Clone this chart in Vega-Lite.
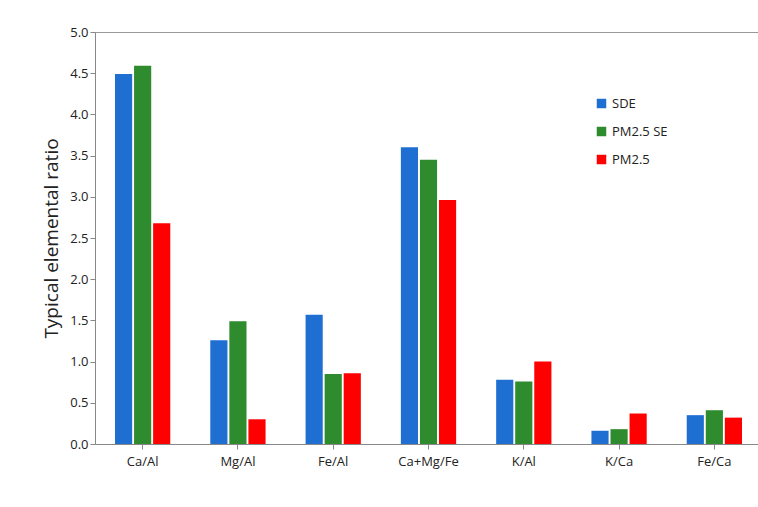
{
"$schema":"https://vega.github.io/schema/vega-lite/v6.json",
"width":667,"height":412,
"autosize":{"type":"none"},
"padding":{"left":95,"top":32,"right":0,"bottom":63},
"background":"white",
"config":{"view":{"stroke":"#999"},"font":"Open Sans"},
"data":{"values":[
{"c":"Ca/Al","s":"SDE","v":4.49},{"c":"Ca/Al","s":"PM2.5 SE","v":4.59},{"c":"Ca/Al","s":"PM2.5","v":2.68},
{"c":"Mg/Al","s":"SDE","v":1.26},{"c":"Mg/Al","s":"PM2.5 SE","v":1.49},{"c":"Mg/Al","s":"PM2.5","v":0.30},
{"c":"Fe/Al","s":"SDE","v":1.57},{"c":"Fe/Al","s":"PM2.5 SE","v":0.85},{"c":"Fe/Al","s":"PM2.5","v":0.86},
{"c":"Ca+Mg/Fe","s":"SDE","v":3.60},{"c":"Ca+Mg/Fe","s":"PM2.5 SE","v":3.45},{"c":"Ca+Mg/Fe","s":"PM2.5","v":2.96},
{"c":"K/Al","s":"SDE","v":0.78},{"c":"K/Al","s":"PM2.5 SE","v":0.76},{"c":"K/Al","s":"PM2.5","v":1.00},
{"c":"K/Ca","s":"SDE","v":0.16},{"c":"K/Ca","s":"PM2.5 SE","v":0.18},{"c":"K/Ca","s":"PM2.5","v":0.37},
{"c":"Fe/Ca","s":"SDE","v":0.35},{"c":"Fe/Ca","s":"PM2.5 SE","v":0.41},{"c":"Fe/Ca","s":"PM2.5","v":0.32}
]},
"mark":{"type":"bar"},
"encoding":{
"x":{"field":"c","type":"nominal","sort":null,"scale":{"paddingInner":0.42,"paddingOuter":0.21},
 "axis":{"title":null,"labelAngle":0,"labelFontSize":13,"labelColor":"#222","domainColor":"#888","tickColor":"#888","labelPadding":6}},
"xOffset":{"field":"s","type":"nominal","sort":["SDE","PM2.5 SE","PM2.5"],"scale":{"paddingInner":0.1}},
"y":{"field":"v","type":"quantitative","scale":{"domain":[0,5]},
 "axis":{"title":"Typical elemental ratio","titleFontSize":19,"titleFontWeight":"normal","titleColor":"#222","titlePadding":8,"format":".1f","tickCount":10,"grid":false,"labelFontSize":13,"labelColor":"#222","domainColor":"#888","tickColor":"#888"}},
"color":{"field":"s","type":"nominal","sort":["SDE","PM2.5 SE","PM2.5"],
 "scale":{"domain":["SDE","PM2.5 SE","PM2.5"],"range":["#1f6fd3","#2e8b2e","#ff0000"]},
 "legend":{"title":null,"orient":"none","legendX":500,"legendY":65,"labelFontSize":13,"symbolType":"square","symbolSize":90,"rowPadding":14,"labelColor":"#222"}}
}
}
